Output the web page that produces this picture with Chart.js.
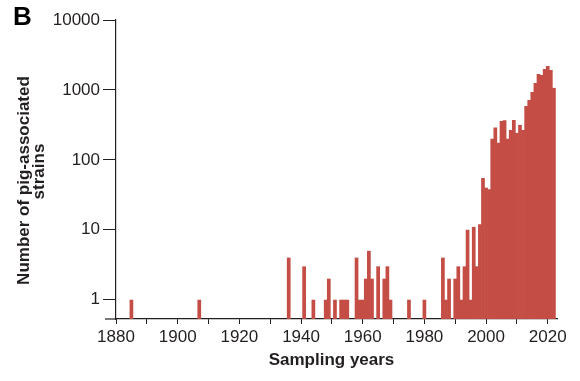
<!DOCTYPE html>
<html>
<head>
<meta charset="utf-8">
<script src="https://cdn.jsdelivr.net/npm/chart.js@4"></script>
<style>
  body { margin: 0; background: #fff; }
  #wrap { position: relative; width: 580px; height: 381px; }
  canvas { display: block; }
  .label {
    position: absolute; white-space: nowrap; text-align: center;
    font: bold 17px/17px "Liberation Sans", Arial, sans-serif; color: #231f20;
  }
  #panel { left: 13px; top: 1px; font-size: 26px; line-height: 30px; color: #000; }
  /* rotated y title: each line is a 260px wide box turned round its centre */
  .ytitle { width: 260px; height: 17px; transform: rotate(-90deg); }
  #ytitle1 { left: -107.5px; top: 172px; }   /* centre (22.5, 180.5) */
  #ytitle2 { left: -92px; top: 163px; }      /* centre (38, 171.5) */
  #xtitle { width: 200px; left: 231.5px; top: 351px; }
</style>
</head>
<body>
<div id="wrap">
  <canvas id="chart" width="580" height="381"></canvas>
  <div id="panel" class="label">B</div>
  <div id="ytitle1" class="label ytitle">Number of pig-associated</div>
  <div id="ytitle2" class="label ytitle">strains</div>
  <div id="xtitle" class="label">Sampling years</div>
</div>
<script>
// Pig-associated strains per sampling year (log scale)
// only years that have at least one strain are listed

const YEARS = [
  1885, 1907, 1936, 1941, 1944, 1948, 1949, 1951, 1953, 1954,
  1955, 1958, 1959, 1960, 1961, 1962, 1963, 1965, 1967, 1968,
  1969, 1975, 1980, 1986, 1987, 1988, 1990, 1991, 1992, 1993,
  1994, 1995, 1996, 1997, 1998, 1999, 2000, 2001, 2002, 2003,
  2004, 2005, 2006, 2007, 2008, 2009, 2010, 2011, 2012, 2013,
  2014, 2015, 2016, 2017, 2018, 2019, 2020, 2021, 2022
];

const COUNTS = [
  1, 1, 4, 3, 1, 1, 2, 1, 1, 1,
  1, 4, 1, 1, 2, 5, 2, 3, 2, 3,
  1, 1, 1, 4, 1, 2, 2, 3, 1, 3,
  10, 1, 11, 3, 12, 55, 40, 38, 200, 290,
  175, 360, 370, 200, 268, 373, 243, 316, 268, 590,
  720, 936, 1260, 1690, 1640, 2000, 2200, 1930, 1070
];

// axis ticks
const X_TICKS = [1880, 1890, 1900, 1910, 1920, 1930, 1940, 1950, 1960, 1970, 1980, 1990, 2000, 2010, 2020];
const X_LABELS = [1880, 1900, 1920, 1940, 1960, 1980, 2000, 2020];
const Y_TICKS = [1, 10, 100, 1000, 10000];

const INK = "#231f20";
const BAR = "#c44d45";
const FONT = "'Liberation Sans', Arial, sans-serif";

// the x axis line sticks out a little to the left of the y axis
const axisStub = {
  id: "axisStub",
  afterDraw(chart) {
    const { ctx, chartArea } = chart;
    ctx.save();
    ctx.strokeStyle = INK;
    ctx.lineWidth = 1.2;
    ctx.beginPath();
    ctx.moveTo(chartArea.left - 11, chartArea.bottom);
    ctx.lineTo(chartArea.left, chartArea.bottom);
    ctx.stroke();
    ctx.restore();
  }
};

new Chart(document.getElementById("chart"), {
  type: "bar",
  data: {
    datasets: [{
      data: YEARS.map((y, i) => ({ x: y, y: COUNTS[i] })),
      backgroundColor: BAR,
      borderWidth: 0,
      barPercentage: 1.2,
      categoryPercentage: 1
    }]
  },
  options: {
    responsive: false,
    animation: false,
    devicePixelRatio: 1,
    layout: { padding: { top: 20, right: 23, bottom: 0, left: 0 } },
    plugins: { legend: { display: false }, tooltip: { enabled: false } },
    scales: {
      x: {
        type: "linear",
        offset: false,
        min: 1880,
        max: 2023,
        afterFit(scale) { scale.height = 62; },
        afterBuildTicks(scale) { scale.ticks = X_TICKS.map(v => ({ value: v })); },
        grid: { offset: false, drawOnChartArea: false, color: INK, tickLength: 5, lineWidth: 1 },
        border: { color: INK, width: 1.2 },
        ticks: {
          color: INK,
          padding: 3,
          maxRotation: 0,
          autoSkip: false,
          font: { family: FONT, size: 17 },
          callback: v => X_LABELS.includes(v) ? String(v) : ""
        }
      },
      y: {
        type: "logarithmic",
        min: 0.53,
        max: 10000,
        afterFit(scale) { scale.width = 116; },
        afterBuildTicks(scale) { scale.ticks = Y_TICKS.map(v => ({ value: v })); },
        grid: { drawOnChartArea: false, color: INK, tickLength: 13, lineWidth: 1 },
        border: { color: INK, width: 1.2 },
        ticks: {
          color: INK,
          padding: 3,
          font: { family: FONT, size: 17 },
          callback: v => String(v)
        }
      }
    }
  },
  plugins: [axisStub]
});
</script>
</body>
</html>
